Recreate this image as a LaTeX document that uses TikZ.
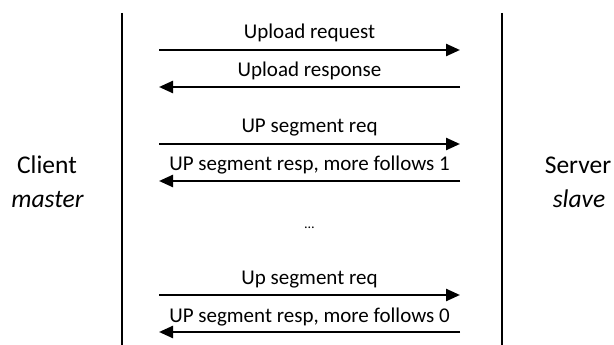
\documentclass[tikz,border=0pt]{standalone}
\usepackage{fontspec}
\setmainfont{Carlito}
\usetikzlibrary{arrows.meta}

\begin{document}
\begin{tikzpicture}[x=1pt,y=-1pt,
  lifeline/.style={line width=2.4pt},
  msg/.style={line width=2.4pt,-{Triangle[length=14pt,width=12pt]}},
  lbl/.style={anchor=base,inner sep=0pt,font=\fontsize{21}{24}\selectfont},
  side/.style={anchor=base,inner sep=0pt,font=\fontsize{25.5}{30}\selectfont}]

% Parameters
\def\xL{159}
\def\xR{460}
\def\xM{309.5}

\useasboundingbox (0,0) rectangle (614,345);

% Lifelines
\coordinate (CT) at (122,13);
\coordinate (CB) at (122,345);
\coordinate (ST) at (502,13);
\coordinate (SB) at (502,345);
\draw[lifeline] (CT) -- (CB);
\draw[lifeline] (ST) -- (SB);

% Client side
\node[side] (client) at (47,174) {Client};
\node[side] (master) at (47.5,207) {\itshape master};

% Server side
\node[side] (server) at (578,174) {Server};
\node[side] (slave) at (579,207) {\itshape slave};

% Upload request
\coordinate (A1) at (\xL,50);
\coordinate (B1) at (\xR,50);
\draw[msg] (A1) -- (B1);
\node[lbl] (t1) at (\xM,39) {Upload request};

% Upload response
\coordinate (A2) at (\xL,87);
\coordinate (B2) at (\xR,87);
\draw[msg] (B2) -- (A2);
\node[lbl] (t2) at (\xM,77) {Upload response};

% First segment
\coordinate (A3) at (\xL,144);
\coordinate (B3) at (\xR,144);
\draw[msg] (A3) -- (B3);
\node[lbl] (t3) at (\xM,132) {UP segment req};

\coordinate (A4) at (\xL,181);
\coordinate (B4) at (\xR,181);
\draw[msg] (B4) -- (A4);
\node[lbl] (t4) at (\xM,171) {UP segment resp, more follows 1};

% Gap
\node[lbl] (dots) at (\xM,228) {\fontsize{14}{16}\selectfont\dots};

% Last segment
\coordinate (A5) at (\xL,295);
\coordinate (B5) at (\xR,295);
\draw[msg] (A5) -- (B5);
\node[lbl] (t5) at (\xM,284) {Up segment req};

\coordinate (A6) at (\xL,332);
\coordinate (B6) at (\xR,332);
\draw[msg] (B6) -- (A6);
\node[lbl] (t6) at (\xM,322) {UP segment resp, more follows 0};

\end{tikzpicture}
\end{document}
